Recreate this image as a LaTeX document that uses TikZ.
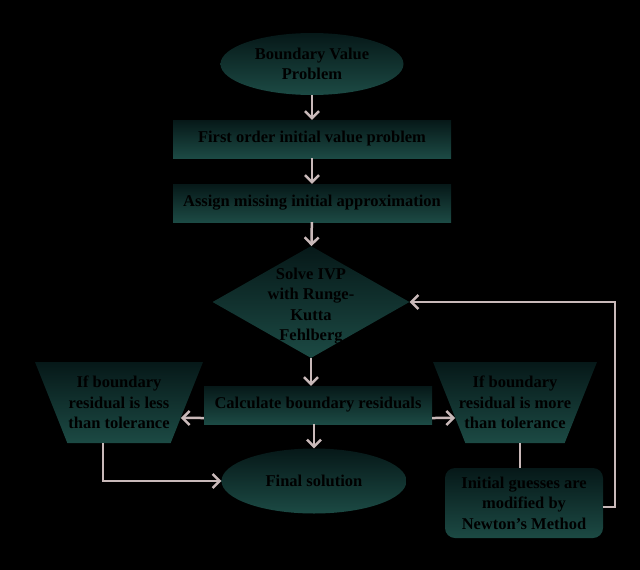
\documentclass[tikz,border=0pt]{standalone}
\usepackage{fontspec}
\setmainfont{Liberation Serif}
\usetikzlibrary{shapes.geometric,arrows.meta,calc}

\definecolor{tealdark}{RGB}{6,24,24}
\definecolor{teallight}{RGB}{28,74,68}
\definecolor{linkcol}{RGB}{201,185,185}

\begin{document}
\begin{tikzpicture}[x=1pt,y=-1pt,
	shp/.style={top color=tealdark,bottom color=teallight,draw=none,inner sep=0pt,
		align=center,text=black,font=\fontsize{16.5}{20.5}\selectfont\bfseries},
	txt/.style={align=center,text=black,inner sep=0pt,font=\fontsize{16.5}{20.5}\selectfont\bfseries},
	oval/.style={shp,ellipse},
	bar/.style={shp,rectangle},
	trap/.style={shp,trapezium,shape border rotate=180,trapezium stretches body,
		trapezium left angle=58.5,trapezium right angle=58.5,minimum height=81},
	link/.style={draw=linkcol,line width=2.5pt,-{Straight Barb[length=7pt,width=14pt]}},
	plain/.style={draw=linkcol,line width=2.5pt}]
		\fill[black] (0,0) rectangle (640,570);
		\useasboundingbox (0,0) rectangle (640,570);
		% main column
		\node[oval,minimum width=183,minimum height=62] (bvp) at (312,64) {Boundary Value\\Problem};
		\node[bar,minimum width=278,minimum height=38] (first) at (312,139) {First order initial value problem};
		\node[bar,minimum width=278,minimum height=38] (assign) at (312,203) {Assign missing initial approximation};
		\node[shp,diamond,minimum width=197,minimum height=112] (solve) at (311,302) {};
		\node[txt] at (311,306) {Solve IVP\\with Runge-\\Kutta\\Fehlberg};
		\node[bar,minimum width=228,minimum height=38] (calc) at (318,405) {Calculate boundary residuals};
		\node[oval,minimum width=185,minimum height=65] (final) at (314,481) {Final solution};
		% side branches
		\node[trap,minimum width=168] (less) at (119,402.5) {If boundary\\residual is less\\than tolerance};
		\node[trap,minimum width=164,inner xsep=-8pt] (more) at (515,402.5) {If boundary\\residual is more\\than tolerance};
		\node[shp,rounded corners=10pt,minimum width=158,minimum height=70] (newton) at (524,503) {Initial guesses are\\modified by\\Newton's Method};
		% connectors
		\draw[link] (bvp) -- (first);
		\draw[link] (first) -- (assign);
		\draw[link] (assign) -- (solve);
		\draw[link] (solve) -- (calc.north -| solve);
		\draw[link] (calc.south -| final) -- (final);
		\draw[link] ([yshift=-13pt]calc.west) -- ($(less.bottom left corner)!0.69!(less.top left corner)$);
		\draw[link] ([yshift=-13pt]calc.east) -- ($(more.bottom right corner)!0.69!(more.top right corner)$);
		\draw[link] ([xshift=-16pt]less.south) |- (final.west);
		\draw[plain] ([xshift=5pt]more.south) -- ([xshift=5pt]more.south |- newton.north);
		\draw[link] ([yshift=-4pt]newton.east) -- ++(12,0) |- (solve.east);
	\end{tikzpicture}
\end{document}
